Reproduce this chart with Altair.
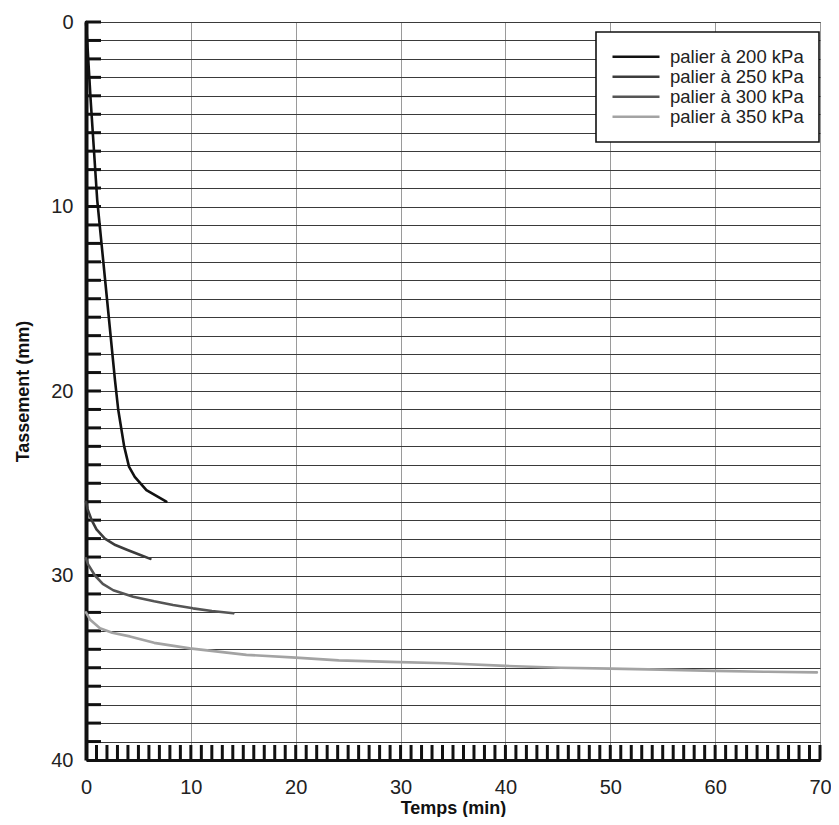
import altair as alt
import pandas as pd

series = ["palier à 200 kPa", "palier à 250 kPa", "palier à 300 kPa", "palier à 350 kPa"]
colors = ["#111111", "#3c3c3c", "#555555", "#a3a3a3"]

t200 = [0, 0.16, 0.44, 1.07, 2.0, 2.76, 3.07, 3.64, 4.1, 4.65, 5.76, 7.66]
s200 = [0, 1.5, 4.2, 9.65, 15.0, 19.4, 21.0, 23.0, 24.1, 24.65, 25.37, 26.0]

t250 = [0, 0.15, 0.54, 1.0, 1.8, 2.8, 3.9, 5.0, 6.14]
s250 = [26.0, 26.4, 27.0, 27.5, 28.0, 28.35, 28.6, 28.85, 29.1]

t300 = [0, 0.2, 0.85, 1.6, 2.6, 4.5, 6.5, 8.3, 10.2, 12.0, 14.05]
s300 = [29.07, 29.4, 30.0, 30.45, 30.8, 31.15, 31.4, 31.6, 31.78, 31.92, 32.05]

t350 = [0, 0.4, 1.33, 2.5, 4.18, 6.5, 9.9, 15.3, 20.0, 24.1, 29, 34.3, 40, 45.3, 50, 54.8, 60, 65, 69.7]
s350 = [32.0, 32.4, 32.86, 33.1, 33.3, 33.65, 33.95, 34.3, 34.45, 34.6, 34.68, 34.76,
        34.9, 35.0, 35.05, 35.1, 35.17, 35.22, 35.25]

x_labels = list(range(0, 71, 10))
y_values = list(range(0, 41))
x_minor = list(range(1, 71))
y_minor = list(range(0, 40))

rows = []
for name, ts, ss in zip(series, [t200, t250, t300, t350], [s200, s250, s300, s350]):
    for i, (t, s) in enumerate(zip(ts, ss)):
        rows.append({"serie": name, "t": t, "s": s, "o": i})
df = pd.DataFrame(rows)

W, H = 734, 738
FONT = "Liberation Sans"

xscale = alt.Scale(domain=[0, 70], nice=False, zero=False)
yscale = alt.Scale(domain=[0, 40], reverse=True, nice=False, zero=False)

xaxis = alt.Axis(
    title="Temps (min)", values=x_labels, grid=True, gridColor="#9a9a9a", gridWidth=1,
    ticks=False, labelPadding=17, titlePadding=2, domainWidth=3, domainColor="#111111",
    labelFlush=False, labelOverlap=False)
yaxis = alt.Axis(
    title="Tassement (mm)", values=y_values,
    labelExpr="datum.value % 10 == 0 ? datum.label : ''",
    grid=True, gridColor="#3a3a3a", gridWidth=1, ticks=False, labelPadding=13,
    titlePadding=18, domainWidth=4, domainColor="#111111", labelFlush=False,
    labelOverlap=False)

yt = alt.Chart(pd.DataFrame({"v": y_minor})).mark_rule(color="#111111", strokeWidth=3).encode(
    y=alt.Y("v:Q", scale=yscale, axis=yaxis),
    x=alt.value(0), x2=alt.value(15),
)
xt = alt.Chart(pd.DataFrame({"v": x_minor})).mark_rule(color="#111111", strokeWidth=3).encode(
    x=alt.X("v:Q", scale=xscale, axis=xaxis),
    y=alt.value(H - 15), y2=alt.value(H),
)

lines = alt.Chart(df).mark_line(strokeWidth=2.6, strokeJoin="round", strokeCap="round").encode(
    x=alt.X("t:Q", scale=xscale, axis=xaxis),
    y=alt.Y("s:Q", scale=yscale, axis=yaxis),
    color=alt.Color("serie:N", scale=alt.Scale(domain=series, range=colors), legend=alt.Legend(
        title=None, orient="none", legendX=510, legendY=10, symbolType="stroke",
        symbolSize=2209, symbolStrokeWidth=2.6, clipHeight=19.5, rowPadding=0,
        labelFontSize=18.5, labelFont=FONT, labelColor="#222222", labelOffset=9,
        padding=15, strokeColor="#111111", fillColor="#ffffff")),
    order="o:Q",
)

chart = alt.layer(yt, xt, lines).properties(
    width=W, height=H,
    padding={"left": 78, "top": 14, "right": 11, "bottom": 57},
    autosize=alt.AutoSizeParams(type="none"),
).configure_view(stroke="#555555", strokeWidth=1).configure_axis(
    labelFont=FONT, labelFontSize=20, labelColor="#222222",
    titleFont=FONT, titleFontSize=18, titleFontWeight="bold", titleColor="#111111",
).configure_legend(strokeWidth=1.6)

chart.save("out.html", embed_options={"renderer": "svg", "actions": False})
